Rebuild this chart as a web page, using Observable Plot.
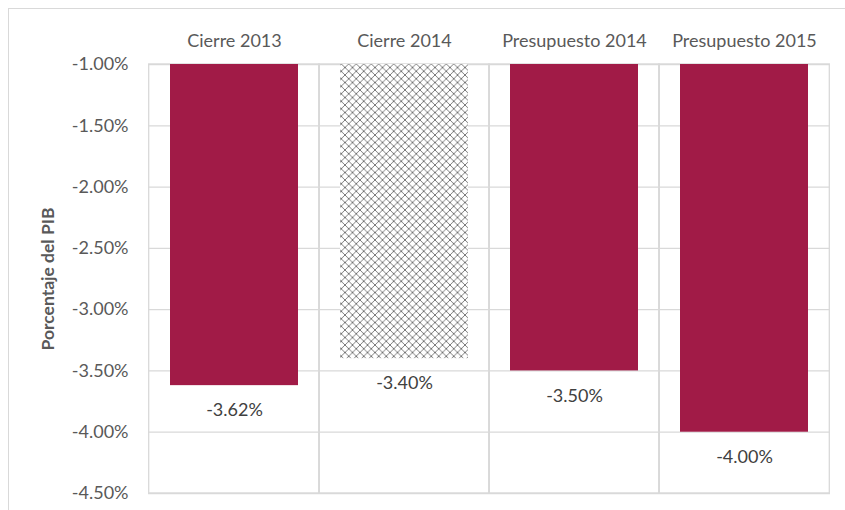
<!DOCTYPE html>
<html>
<head>
<meta charset="utf-8">
<script src="https://cdn.jsdelivr.net/npm/d3@7"></script>
<script src="https://cdn.jsdelivr.net/npm/@observablehq/plot@0.6"></script>
<style>
  html, body { margin: 0; padding: 0; background: #fff; overflow: hidden; }
  #wrap { position: relative; width: 845px; height: 510px; }
  #frame { position: absolute; left: 8px; top: 8px; width: 900px; height: 600px; border: 1px solid #d9d9d9; box-sizing: border-box; }
  #chart { position: absolute; left: 0; top: 0; }
</style>
</head>
<body>
<div id="wrap"><div id="frame"></div><div id="chart"></div></div>
<script>
const categories = ["Cierre 2013", "Cierre 2014", "Presupuesto 2014", "Presupuesto 2015"];
const values = [-3.62, -3.40, -3.50, -4.00];
const hatched = [false, true, false, false];
const yTicks = [-1.0, -1.5, -2.0, -2.5, -3.0, -3.5, -4.0, -4.5];
const yLabel = "Porcentaje del PIB";

const data = categories.map((c, i) => ({cat: c, value: values[i], hatch: hatched[i]}));
const yTop = d3.max(yTicks);
const fmt = v => v.toFixed(2) + "%";

const W = 845, H = 510, mL = 148, mR = 15, mT = 64, mB = 17;
const step = (W - mL - mR) / categories.length;
const half = step * 0.125;

const plot = Plot.plot({
  width: W, height: H,
  marginLeft: mL, marginRight: mR, marginTop: mT, marginBottom: mB,
  style: {fontFamily: "Lato, 'Open Sans', sans-serif", fontSize: "18px", color: "#595959", background: "transparent"},
  x: {domain: categories, paddingInner: 0.25, paddingOuter: 0.125, axis: null},
  y: {domain: [d3.min(yTicks), yTop], axis: null},
  marks: [
    Plot.gridY(yTicks, {stroke: "#d9d9d9", strokeOpacity: 1, strokeWidth: 1.3}),
    Plot.cell(categories, {x: d => d, fill: "none", stroke: "#d9d9d9", strokeWidth: 1.3, insetLeft: -half, insetRight: -half}),
    Plot.barY(data, {x: "cat", y1: () => yTop, y2: "value", fill: d => d.hatch ? "url(#crosshatch)" : "#a11b47"}),
    Plot.text(data, {x: "cat", y: "value", text: d => fmt(d.value), dy: 25, fill: "#404040", fontSize: 18}),
    Plot.axisY({ticks: yTicks, tickFormat: fmt, tickSize: 0, tickPadding: 20, label: null, fontSize: 18, fill: "#595959"}),
    Plot.axisX({anchor: "top", tickSize: 0, tickPadding: 18, label: null, fontSize: 18, fill: "#595959"}),
    Plot.text([yLabel], {frameAnchor: "left", text: d => d, rotate: -90, dx: -100, dy: 0, fontWeight: "bold", fontSize: 17.5, fill: "#595959", textAnchor: "middle"})
  ]
});

// crosshatch pattern definition
const ns = "http://www.w3.org/2000/svg";
const defs = document.createElementNS(ns, "defs");
defs.innerHTML = `<pattern id="crosshatch" patternUnits="userSpaceOnUse" width="7.5" height="7.5">
  <rect width="7.5" height="7.5" fill="#ffffff"/>
  <path d="M0,0 L7.5,7.5 M7.5,0 L0,7.5" stroke="#5a5a5a" stroke-width="0.8"/>
</pattern>`;
plot.insertBefore(defs, plot.firstChild);

document.getElementById("chart").appendChild(plot);
</script>
</body>
</html>
